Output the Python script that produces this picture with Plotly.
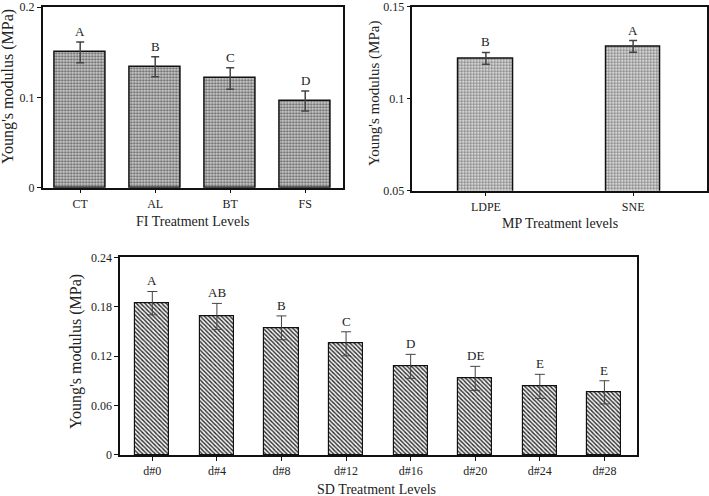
import plotly.graph_objects as go

# ---------------- data ----------------
fi_levels = ["CT", "AL", "BT", "FS"]
fi_values = [0.150, 0.134, 0.121, 0.096]
fi_errors = [0.0115, 0.011, 0.012, 0.011]
fi_letters = ["A", "B", "C", "D"]

mp_levels = ["LDPE", "SNE"]
mp_values = [0.122, 0.1285]
mp_errors = [0.0032, 0.0032]
mp_letters = ["B", "A"]

sd_levels = ["d#0", "d#4", "d#8", "d#12", "d#16", "d#20", "d#24", "d#28"]
sd_values = [0.1845, 0.1684, 0.1545, 0.1351, 0.1077, 0.0931, 0.0834, 0.0761]
sd_errors = [0.0142, 0.0158, 0.0145, 0.0146, 0.0146, 0.0146, 0.0146, 0.0141]
sd_letters = ["A", "AB", "B", "C", "D", "DE", "E", "E"]

fi_ticks = [0, 0.1, 0.2]
fi_ticktext = ["0", "0.1", "0.2"]
mp_ticks = [0.05, 0.1, 0.15]
mp_ticktext = ["0.05", "0.1", "0.15"]
sd_ticks = [0, 0.06, 0.12, 0.18, 0.24]
sd_ticktext = ["0", "0.06", "0.12", "0.18", "0.24"]

y_title = "Young's modulus (MPa)"

FONT = "Liberation Serif"
TXT = "#222222"

fig = go.Figure()

fig.add_trace(go.Bar(
    x=fi_levels, y=fi_values, xaxis="x", yaxis="y", width=0.68,
    marker=dict(color="#c4c4c4", line=dict(color="#111111", width=1.5),
                pattern=dict(shape=".", size=3, solidity=0.45,
                             fgcolor="#666666", bgcolor="#d0d0d0", fillmode="replace")),
    error_y=dict(type="data", array=fi_errors, color="#444444", thickness=1.5, width=4),
    showlegend=False))

fig.add_trace(go.Bar(
    x=mp_levels, y=mp_values, xaxis="x2", yaxis="y2", width=0.37,
    marker=dict(color="#c8c8c8", line=dict(color="#111111", width=1.5),
                pattern=dict(shape="+", size=3, solidity=0.35,
                             fgcolor="#707070", bgcolor="#d6d6d6", fillmode="replace")),
    error_y=dict(type="data", array=mp_errors, color="#444444", thickness=1.5, width=4),
    showlegend=False))

fig.add_trace(go.Bar(
    x=sd_levels, y=sd_values, xaxis="x3", yaxis="y3", width=0.53,
    marker=dict(color="#888888", line=dict(color="#111111", width=1.2),
                pattern=dict(shape="\\", size=3, solidity=0.45,
                             fgcolor="#2a2a2a", bgcolor="#f4f4f4", fillmode="replace")),
    error_y=dict(type="data", array=sd_errors, color="#444444", thickness=1, width=5),
    showlegend=False))

axis_common = dict(showline=True, linecolor="#111111", linewidth=1.5, mirror=True,
                   ticks="outside", ticklen=4, tickcolor="#111111", showgrid=False,
                   zeroline=False, automargin=False, ticklabeloverflow="allow",
                   tickfont=dict(family=FONT, size=12, color=TXT))

fig.update_layout(
    width=709, height=496, margin=dict(l=0, r=0, t=0, b=0),
    paper_bgcolor="white", plot_bgcolor="white", bargap=0,
    xaxis=dict(domain=[0.0602, 0.4834], anchor="y", range=[-0.5, 3.5], **axis_common),
    yaxis=dict(domain=[0.6216, 0.9859], anchor="x", range=[0, 0.2002],
               tickvals=fi_ticks, ticktext=fi_ticktext, **axis_common),
    xaxis2=dict(domain=[0.5815, 0.9968], anchor="y2", range=[-0.5, 1.5], **axis_common),
    yaxis2=dict(domain=[0.6155, 0.9865], anchor="x2", range=[0.05, 0.1501],
                tickvals=mp_ticks, ticktext=mp_ticktext, **axis_common),
    xaxis3=dict(domain=[0.1693, 0.8980], anchor="y3", range=[-0.5, 7.5], **axis_common),
    yaxis3=dict(domain=[0.0827, 0.4812], anchor="x3", range=[0, 0.2402],
                tickvals=sd_ticks, ticktext=sd_ticktext, **axis_common),
)

annotations = []
# letter labels
for xs, ys, es, ls, ax, ay in [(fi_levels, fi_values, fi_errors, fi_letters, "x", "y"),
                               (mp_levels, mp_values, mp_errors, mp_letters, "x2", "y2"),
                               (sd_levels, sd_values, sd_errors, sd_letters, "x3", "y3")]:
    for xv, yv, ev, lv in zip(xs, ys, es, ls):
        annotations.append(dict(x=xv, y=yv + ev, xref=ax, yref=ay, text=lv,
                                showarrow=False, yanchor="bottom", yshift=1,
                                font=dict(family=FONT, size=13, color=TXT)))

# axis titles
def title(x, y, text, size, angle=0):
    return dict(x=x / 709, y=1 - y / 496, xref="paper", yref="paper", text=text,
                showarrow=False, textangle=angle, xanchor="center", yanchor="middle",
                font=dict(family=FONT, size=size, color=TXT))

annotations += [
    title(8, 87, y_title, 16, -90),
    title(193, 221, "FI Treatment Levels", 14),
    title(374, 93, y_title, 15, -90),
    title(560, 223, "MP Treatment levels", 14),
    title(76, 352, y_title, 16, -90),
    title(377, 489, "SD Treatment Levels", 14),
]
fig.update_layout(annotations=annotations)

fig.write_html("out.html")
